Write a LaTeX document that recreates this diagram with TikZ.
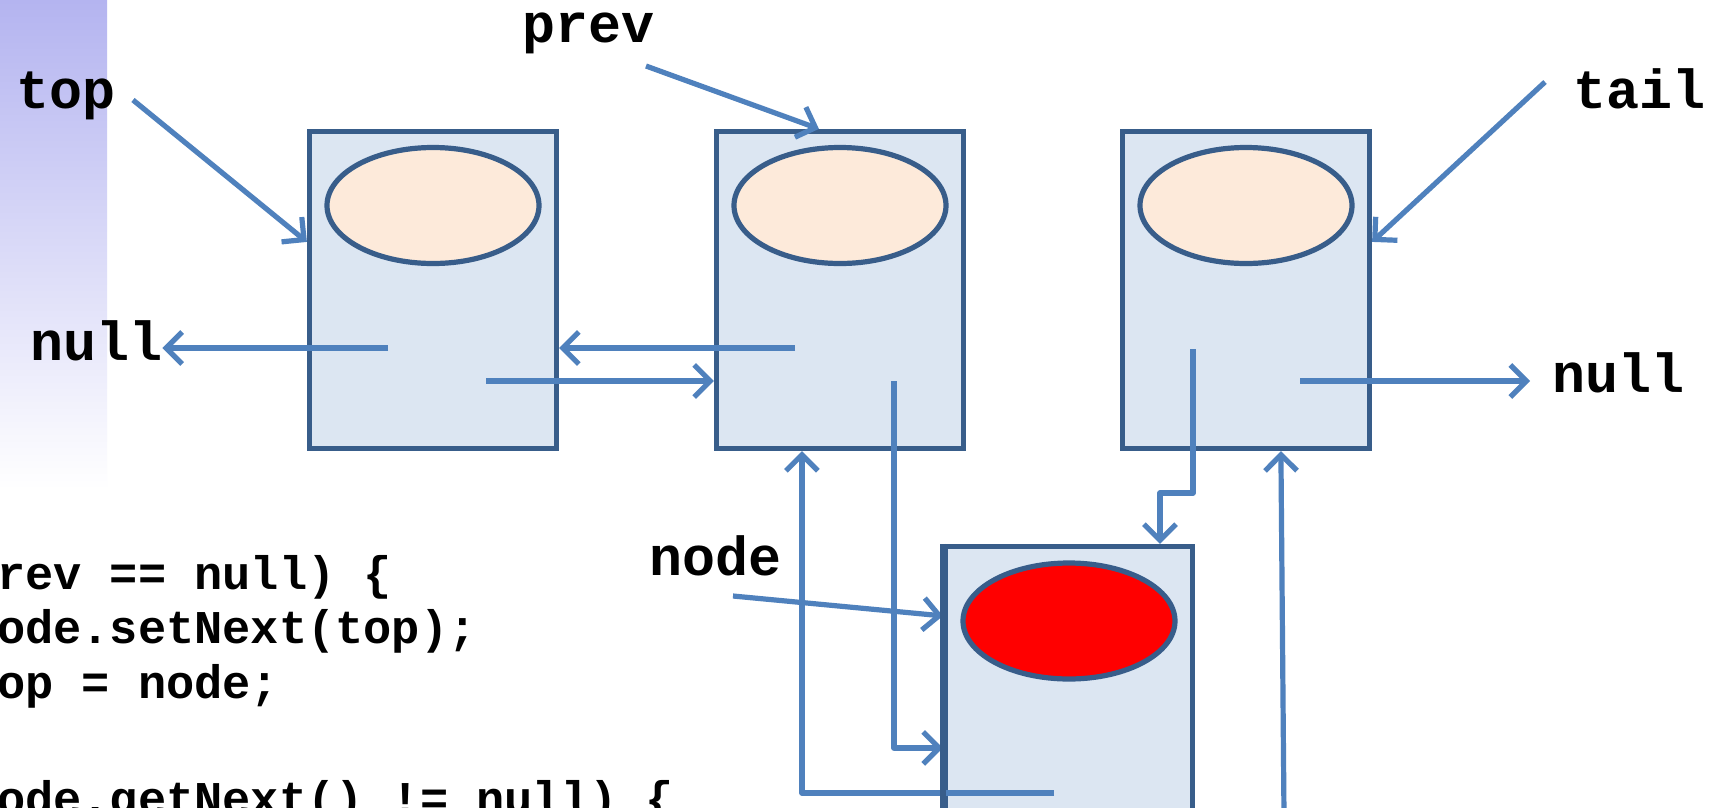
\documentclass[tikz,border=0pt]{standalone}
\usepackage{fontspec}
\setmonofont{Liberation Mono}
\usetikzlibrary{arrows.meta,shapes.geometric,calc}
\definecolor{arrowblue}{HTML}{4F81BD}
\definecolor{boxedge}{HTML}{385D8A}
\definecolor{boxfill}{HTML}{DCE6F2}
\definecolor{eggfill}{HTML}{FDEADA}
\definecolor{stripTop}{RGB}{180,180,240}
\begin{document}
\begin{tikzpicture}[x=1pt,y=-1pt,
 cell/.style={rectangle,draw=boxedge,fill=boxfill,line width=5.2pt,minimum width=247pt,minimum height=317pt,inner sep=0pt},
 egg/.style={ellipse,draw=boxedge,fill=eggfill,line width=5.2pt,minimum width=212pt,minimum height=116pt,inner sep=0pt},
 arr/.style={draw=arrowblue,line width=5.2pt,line join=round,-{Straight Barb[length=16pt,width=32pt]}},
 lbl/.style={font=\fontsize{55}{60}\selectfont\ttfamily\bfseries,inner sep=0pt,anchor=base west},
 code/.style={font=\fontsize{47}{54}\selectfont\ttfamily\bfseries,inner sep=0pt,anchor=base west}]
\useasboundingbox (0,0) rectangle (1709,807);
\clip (0,0) rectangle (1709,807);
\fill[white] (0,0) rectangle (1709,807);
\shade[top color=stripTop, bottom color=white] (0,0) rectangle (107,490);

% boxes
\node[cell] (b1) at (433,290) {};
\node[cell] (b2) at (840,290) {};
\node[cell] (b3) at (1246,290) {};
\node[cell] (b4) at (1069,705) {};
\node[egg] (e1) at (433,205.5) {};
\node[egg] (e2) at (840,205.5) {};
\node[egg] (e3) at (1246,205.5) {};
\node[egg,fill=red] (e4) at (1069,621) {};

% labels
\node[lbl] (ltop) at (16,108) {top};
\node[lbl] (lprev) at (522,42) {prev};
\node[lbl] (ltail) at (1573,108) {tail};
\node[lbl] (lnull) at (30,360) {null};
\node[lbl] (rnull) at (1552,392) {null};
\node[lbl] (lnode) at (649,575) {node};

% code
\node[code] (c1) at (-3,589) {rev == null) \{};
\node[code] (c2) at (-3,643) {ode.setNext(top);};
\node[code] (c3) at (-3,698) {op = node;};
\node[code] (c4) at (-3,814) {ode.getNext() != null) \{};

% free ends
\coordinate (topS) at (133,100);
\coordinate (prevS) at (646,66);
\coordinate (tailS) at (1545,82);
\coordinate (n1s) at (388,348);
\coordinate (n2s) at (486,381);
\coordinate (n3s) at (795,348);
\coordinate (n4s) at (1300,381);
\coordinate (n5s) at (1193,349);
\coordinate (n5m) at (1160,493);
\coordinate (n6s) at (894,381);
\coordinate (n7s) at (1054,793);
\coordinate (n8s) at (1284,815);
\coordinate (nodeS) at (733,596);

% connectors
\draw[arr] (topS) -- ($(b1.north west)+(0,113)$);
\draw[arr] (prevS) -- ($(b2.north west)+(105,0)$);
\draw[arr] (tailS) -- ($(b3.north east)+(0,113)$);
\draw[arr] (n1s) -- (n1s -| lnull.east);
\draw[arr] (n2s) -- (n2s -| b2.west);
\draw[arr] (n3s) -- (n3s -| b1.east);
\draw[arr] (n4s) -- ($(n4s -| rnull.west)+(-22,0)$);
\draw[arr] (n5s) |- (n5m) -- (n5m |- b4.north);
\draw[arr] (n6s) |- ($(b4.north west)+(0,204)$);
\draw[arr] (n7s) -| ($(b2.south west)+(88,0)$);
\draw[arr] (n8s) -- ($(b3.south west)+(161,0)$);
\draw[arr] (nodeS) -- ($(b4.north west)+(0,72)$);
% box4 left border passes over the bottom loop line
\draw[boxedge,line width=5.2pt] (b4.north west) -- (b4.south west);
\end{tikzpicture}
\end{document}
